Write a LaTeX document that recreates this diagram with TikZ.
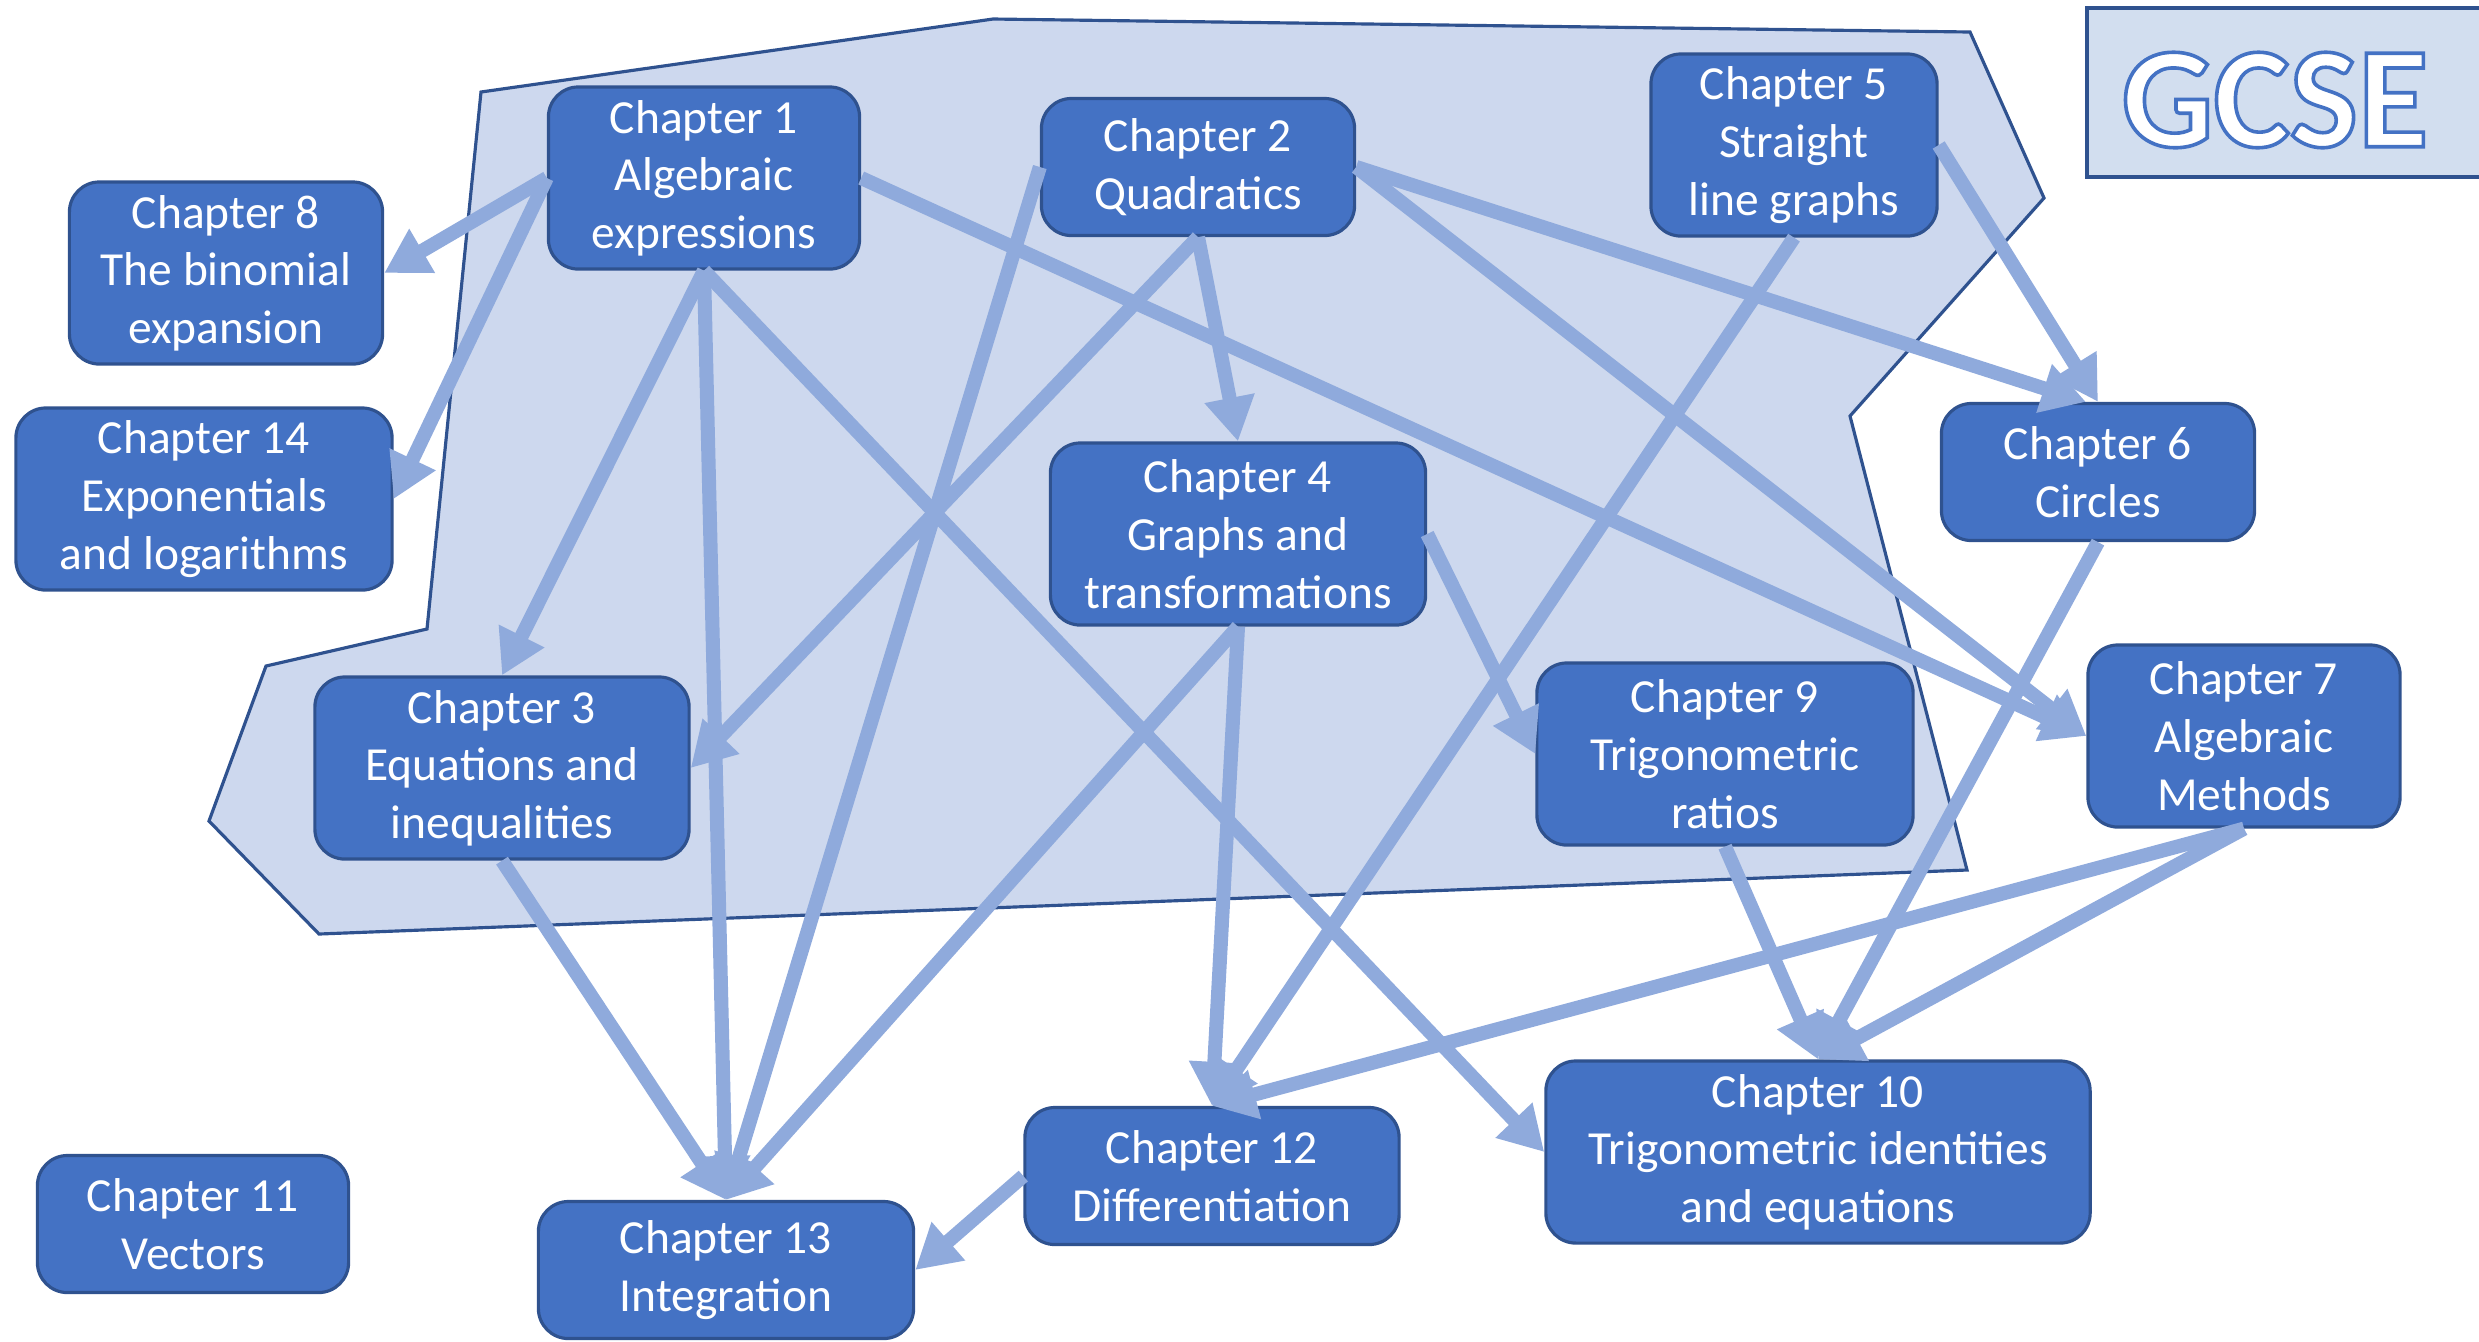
\documentclass[tikz,border=0pt]{standalone}
\usepackage{fontspec}
\setmainfont{Carlito}
\usepackage{tikz}
\usetikzlibrary{arrows.meta}

\definecolor{chapblue}{HTML}{4472C4}
\definecolor{chapline}{HTML}{2F528F}
\definecolor{linkblue}{HTML}{8FAADC}
\definecolor{regionblue}{HTML}{CDD8EE}
\definecolor{gcsefill}{HTML}{D2DEEF}
\newcommand{\chapfont}{\fontsize{13.5}{16.4}\selectfont}
% white letters with a blue rim
\newcommand{\rimtext}[1]{{\addfontfeatures{FakeBold=2.5}%
  \special{pdf:bcolor [1 1 1] [0.267 0.447 0.769]}#1\special{pdf:ecolor}}}

\begin{document}
\begin{tikzpicture}[x=0.01cm,y=-0.01cm,
  chap/.style={draw=chapline, fill=chapblue, line width=0.9pt, rounded corners=0.3cm,
    text=white, align=center, inner sep=0pt, font=\chapfont, minimum height=1.82cm},
  short/.style={minimum height=1.37cm},
  link/.style={draw=linkblue, line width=4pt, -{Triangle[length=0.44cm,width=0.48cm]}}]
\useasboundingbox (0,0) rectangle (2479,1341);

% region
\draw[chapline, fill=regionblue, line width=0.9pt] (993,19) -- (1970,32) -- (2044,198)
  -- (1850,416) -- (1967,870) -- (319,934) -- (209,821) -- (266,666) -- (427,629)
  -- (481,92) -- cycle;

% GCSE
\draw[chapline, fill=gcsefill, line width=1.3pt] (2087,8) rectangle (2520,177);
\node (gcse) at (2275,100) {\fontsize{41}{41}\selectfont\bfseries\rimtext{GCSE}};

% chapters
\node[chap, minimum width=3.11cm] (ch1) at (704,178) {Chapter 1\\Algebraic\\expressions};
\node[chap, short, minimum width=3.13cm] (ch2) at (1198,167) {Chapter 2\\Quadratics};
\node[chap, minimum width=3.74cm] (ch3) at (502,768) {Chapter 3\\Equations and\\inequalities};
\node[chap, minimum width=3.75cm] (ch4) at (1238,534) {Chapter 4\\Graphs and\\transformations};
\node[chap, minimum width=2.86cm] (ch5) at (1794,145) {Chapter 5\\Straight\\line graphs};
\node[chap, short, minimum width=3.13cm] (ch6) at (2098,472) {Chapter 6\\Circles};
\node[chap, minimum width=3.12cm] (ch7) at (2244,736) {Chapter 7\\Algebraic\\Methods};
\node[chap, minimum width=3.13cm] (ch8) at (226,273) {Chapter 8\\The binomial\\expansion};
\node[chap, minimum width=3.76cm] (ch9) at (1725,754) {Chapter 9\\Trigonometric\\ratios};
\node[chap, minimum width=5.44cm] (ch10) at (1818,1152) {Chapter 10\\Trigonometric identities\\and equations};
\node[chap, short, minimum width=3.11cm] (ch11) at (193,1224) {Chapter 11\\Vectors};
\node[chap, short, minimum width=3.74cm] (ch12) at (1212,1176) {Chapter 12\\Differentiation};
\node[chap, short, minimum width=3.75cm] (ch13) at (726,1270) {Chapter 13\\Integration};
\node[chap, minimum width=3.76cm] (ch14) at (204,499) {Chapter 14\\Exponentials\\and logarithms};

% links
\draw[link] (ch1.west) -- (ch8.east);
\draw[link] (ch1.west) -- (ch14.east);
\draw[link] (ch1.south) -- (ch3.north);
\draw[link] (ch1.south) -- (ch13.north);
\draw[link] (ch1.south) -- (ch10.west);
\draw[link] (ch1.east) -- (ch7.west);
\draw[link] (ch2.west) -- (ch13.north);
\draw[link] (ch2.south) -- (ch3.east);
\draw[link] (ch2.south) -- (ch4.north);
\draw[link] (ch2.east) -- ([xshift=-0.12cm]ch6.north);
\draw[link] (ch2.east) -- (ch7.west);
\draw[link] (ch5.east) -- (ch6.north);
\draw[link] (ch5.south) -- (ch12.north);
\draw[link] (ch4.east) -- (ch9.west);
\draw[link] (ch4.south) -- (ch12.north);
\draw[link] (ch4.south) -- (ch13.north);
\draw[link] (ch3.south) -- (ch13.north);
\draw[link] (ch6.south) -- (ch10.north);
\draw[link] (ch9.south) -- (ch10.north);
\draw[link] (ch7.south) -- (ch10.north);
\draw[link] (ch7.south) -- (ch12.north);
\draw[link] (ch12.west) -- (ch13.east);
\end{tikzpicture}
\end{document}
